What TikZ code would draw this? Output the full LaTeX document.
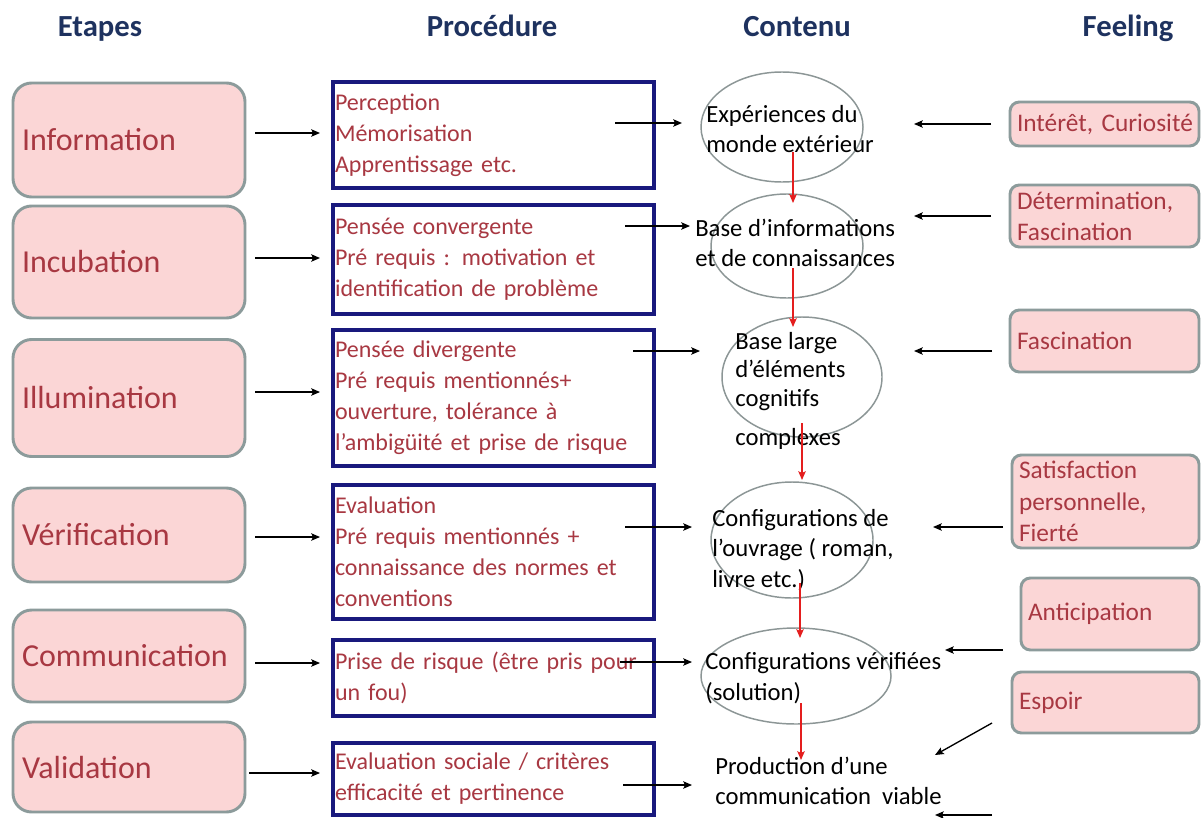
\documentclass[tikz,border=0pt]{standalone}
\usepackage{fontspec}
\setmainfont{Carlito}
\usepackage{xcolor}
\usepackage{tikz}
\usetikzlibrary{arrows.meta,shapes.geometric,calc}

\definecolor{rosefond}{RGB}{251,214,214}
\definecolor{grisbord}{RGB}{140,155,155}
\definecolor{rougetexte}{RGB}{168,56,66}
\definecolor{bleubord}{RGB}{25,25,125}
\definecolor{bleutitre}{RGB}{30,50,95}
\definecolor{grisellipse}{RGB}{140,150,150}
\definecolor{rougefleche}{RGB}{228,30,30}

\begin{document}
\begin{tikzpicture}[->,>={Stealth[length=6.5pt,width=5.5pt,inset=1.2pt]},x=0.75pt,y=-0.75pt,
    titre/.style={anchor=base,text=bleutitre,font=\fontsize{23}{28}\selectfont\bfseries},
    etape/.style={draw=grisbord,line width=2.2pt,fill=rosefond,rounded corners=14pt,
        minimum width=174pt,text width=160.5pt,inner xsep=6.75pt,outer sep=0pt,
        align=left,text=rougetexte,font=\fontsize{24}{29}\selectfont},
    procedure/.style={draw=bleubord,line width=2.6pt,fill=white,minimum width=240.75pt,
        text width=237.75pt,inner xsep=1.5pt,outer sep=0pt,align=left,text=rougetexte,
        font=\fontsize{18}{23.25}\selectfont},
    contenu/.style={ellipse,draw=grisellipse,line width=1.1pt,inner sep=0pt,outer sep=0pt},
    texte/.style={anchor=west,inner sep=0pt,align=left,font=\fontsize{18.5}{23}\selectfont},
    feeling/.style={draw=grisbord,line width=2.2pt,fill=rosefond,rounded corners=7pt,
        inner xsep=5.25pt,inner ysep=1pt,outer sep=0pt,align=left,text=rougetexte,
        font=\fontsize{19}{23.5}\selectfont},
    fleche/.style={line width=1pt,black},
    rouge/.style={line width=1.3pt,rougefleche}]

\fill[white] (0,0) rectangle (1201,817);
\useasboundingbox (0,0) rectangle (1201,817);

% titres
\node[titre] (h1) at (100,37) {Etapes};
\node[titre] (h2) at (492,37) {Procédure};
\node[titre] (h3) at (797,37) {Contenu};
\node[titre] (h4) at (1128,37) {Feeling};

% etapes
\node[etape,minimum height=85.5pt] (a1) at (129,140) {Information};
\node[etape,minimum height=84pt] (a2) at (129,262) {Incubation};
\node[etape,minimum height=87.75pt] (a3) at (129,398) {Illumination};
\node[etape,minimum height=70.5pt] (a4) at (129,535) {Vérification};
\node[etape,minimum height=69pt] (a5) at (129,656) {Communication};
\node[etape,minimum height=67.5pt] (a6) at (129,767) {Validation};

% procedure
\node[procedure,minimum height=79.5pt] (p1) at (493.5,135) {Perception\\Mémorisation\\Apprentissage etc.};
\node[procedure,minimum height=81.75pt] (p2) at (493.5,259.5) {Pensée convergente\\Pré requis : motivation et\\identification de problème};
\node[procedure,minimum height=102pt] (p3) at (493.5,398) {Pensée divergente\\Pré requis mentionnés+\\ouverture, tolérance à\\l’ambigüité et prise de risque};
\node[procedure,minimum height=100.5pt] (p4) at (493.5,552) {Evaluation\\Pré requis mentionnés +\\connaissance des normes et\\conventions};
\node[procedure,minimum height=57pt] (p5) at (493.5,678) {Prise de risque (être pris pour\\un fou)};
\node[procedure,minimum height=54pt] (p6) at (493.5,779) {Evaluation sociale / critères\\efficacité et pertinence};

% contenu
\node[contenu,minimum width=121.5pt,minimum height=82.5pt] (e1) at (782,127) {};
\node[contenu,minimum width=114pt,minimum height=78pt] (e2) at (787,246) {};
\node[contenu,minimum width=120pt,minimum height=90pt] (e3) at (802,377) {};
\node[contenu,minimum width=121.5pt,minimum height=87pt] (e4) at (792,540) {};
\node[contenu,minimum width=142.5pt,minimum height=72pt] (e5) at (796,676) {};

\node[texte] (c1) at (706,129) {Expériences du\\monde extérieur};
\node[texte] (c2) at (695,243) {Base d’informations\\et de connaissances};
\node[texte,font=\fontsize{18.5}{21.5}\selectfont] (c3) at (735,391) {Base large\\d’éléments\\cognitifs\\[8pt]complexes};
\node[texte] (c4) at (712,550) {Configurations de\\l’ouvrage ( roman,\\livre etc.)};
\node[texte] (c5) at (705,678) {Configurations vérifiées\\(solution)};
\node[texte] (c6) at (715,781) {Production d’une\\communication~ viable};

% feeling
\node[feeling,minimum width=141.75pt,text width=131.25pt,minimum height=33pt] (f1) at (1104.5,124) {\mbox{Intérêt, Curiosité}};
\node[feeling,minimum width=141.75pt,text width=131.25pt,minimum height=46.5pt] (f2) at (1104.5,216) {Détermination,\\Fascination};
\node[feeling,minimum width=141.75pt,text width=131.25pt,minimum height=46.5pt] (f3) at (1104.5,341) {Fascination};
\node[feeling,minimum width=140.25pt,text width=129.75pt,minimum height=69.75pt] (f4) at (1105.5,501.5) {Satisfaction\\personnelle,\\Fierté};
\node[feeling,minimum width=133.5pt,text width=123pt,minimum height=54pt] (f5) at (1110,614) {Anticipation};
\node[feeling,minimum width=140.25pt,text width=129.75pt,minimum height=45.75pt] (f6) at (1105.5,702.5) {Espoir};

% etapes -> procedure
\draw[fleche] ($(a1.east)+(10,-7)$) -- ($(p1.west|-a1.east)+(-13,-7)$);
\draw[fleche] ($(a2.east)+(10,-4)$) -- ($(p2.west|-a2.east)+(-13,-4)$);
\draw[fleche] ($(a3.east)+(10,-6)$) -- ($(p3.west|-a3.east)+(-13,-6)$);
\draw[fleche] ($(a4.east)+(10,2)$) -- ($(p4.west|-a4.east)+(-13,2)$);
\draw[fleche] ($(a5.east)+(10,7)$) -- ($(p5.west|-a5.east)+(-13,7)$);
\draw[fleche] ($(a6.east)+(4,6)$) -- ($(p6.west|-a6.east)+(-13,6)$);

% procedure -> contenu
\draw[fleche] ($(p1.east)+(-39,-12)$) -- ($(e1.west)+(-19,-4)$);
\draw[fleche] ($(p2.east)+(-29,-33.5)$) -- ($(e2.west)+(-21,-20)$);
\draw[fleche] ($(p3.east)+(-21,-47)$) -- ($(e3.west)+(-22,-26)$);
\draw[fleche] ($(p4.east)+(-29,-25)$) -- ($(e4.west)+(-19,-13)$);
\draw[fleche] ($(p5.east)+(-34,-16)$) -- ($(e5.west)+(-9,-14)$);
\draw[fleche] ($(p6.east)+(-31,6)$) -- ($(c6.west)+(-23,4)$);

% feeling -> contenu
\draw[fleche] ($(f1.west)+(-19,0)$) -- ($(e1.east)+(51,-3)$);
\draw[fleche] ($(f2.west)+(-19,0)$) -- ($(e2.east)+(51,-30)$);
\draw[fleche] ($(f3.west)+(-18,10)$) -- ($(e3.east)+(32,-26)$);
\draw[fleche] ($(f4.west)+(-9,25.5)$) -- ($(e4.east)+(60,-13)$);
\draw[fleche] ($(f5.west)+(-18,36)$) -- ($(e5.east)+(54,-26)$);
\draw[fleche] ($(f6.west)+(-20,20.5)$) -- ($(c6.west)+(220,-26)$);
\coordinate (bas) at (992,815);
\draw[fleche] (bas) -- ($(c6.west)+(220,34)$);

% contenu -> contenu
\draw[rouge] ($(e1.south)+(11,-30)$) -- ($(e2.north)+(6,9)$);
\draw[rouge] ($(e2.south)+(6,-30)$) -- ($(e3.north)+(-9,10)$);
\draw[rouge] ($(e3.south)+(0,-14)$) -- ($(e4.north)+(10,-2)$);
\draw[rouge] ($(e4.south)+(8,-15)$) -- ($(e5.north)+(4,10)$);
\draw[rouge] ($(e5.south)+(5,-21)$) -- ($(c6.west)+(86,-21)$);

\end{tikzpicture}
\end{document}
